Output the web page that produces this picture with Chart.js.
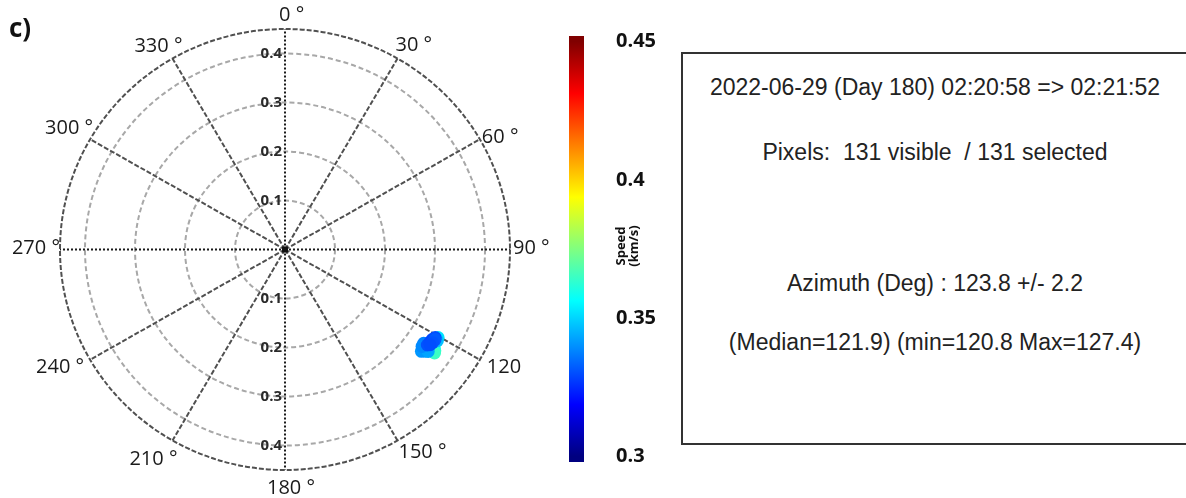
<!DOCTYPE html>
<html lang="en">
<head>
    <meta charset="UTF-8">
    <title>Azimuth / Speed</title>
    <style>
        body, html {
            margin: 0;
            padding: 0;
            width: 1186px;
            height: 498px;
            overflow: hidden;
            background: #fff;
        }
        .wrap { position: relative; width: 1186px; height: 498px; }
        canvas { position: absolute; top: 0; }
        #panel {
            position: absolute;
            left: 9px;
            top: 12px;
            font: bold 26px "Open Sans", sans-serif;
            line-height: 30px;
            color: #111;
        }
        #cbtitle {
            position: absolute;
            left: 597px;
            top: 233px;
            width: 60px;
            text-align: center;
            font: bold 13px "Open Sans", sans-serif;
            line-height: 13px;
            color: #111;
            transform: rotate(-90deg);
        }
        #info {
            position: absolute;
            left: 681px;
            top: 52px;
            width: 520px;
            height: 389px;
            border: 2px solid #333;
            font: 23px "Liberation Sans", Arial, sans-serif;
            color: #222;
        }
        #info div {
            position: absolute;
            left: 0;
            width: 504px;
            text-align: center;
            line-height: 26px;
            white-space: pre;
        }
    </style>
    <script src="https://cdn.jsdelivr.net/npm/chart.js"></script>
</head>
<body>
<div class="wrap">
    <canvas id="polar" width="560" height="498" style="left:0"></canvas>
    <canvas id="cbar" width="120" height="498" style="left:560px"></canvas>
    <div id="panel">c)</div>
    <div id="cbtitle">Speed<br>(km/s)</div>
    <div id="info"></div>
</div>
<script>
    // radial rings and angle labels
    const ringValues = [0.1, 0.2, 0.3, 0.4];
    const rMax = 0.45;
    const angleTicks = [0, 30, 60, 90, 120, 150, 180, 210, 240, 270, 300, 330];
    const angleLabels = ['0 °', '30 °', '60 °', '90 °', '120', '150 °', '180 °', '210 °', '240 °', '270 °', '300 °', '330 °'];

    // colour bar
    const colorMin = 0.3;
    const colorMax = 0.45;
    const colorTicks = [0.3, 0.35, 0.4, 0.45];

    // selected pixels (azimuth deg, radial speed, colour speed km/s)
    const azimuth = [124.6, 124.0, 125.2, 120.4, 121.4, 125.3, 126.5, 124.6, 127.3, 126.0, 125.8, 124.4, 123.2, 122.0, 120.9, 121.5, 122.8, 123.8];
    const radius  = [0.364, 0.360, 0.366, 0.355, 0.357, 0.342, 0.349, 0.337, 0.343, 0.354, 0.338, 0.345, 0.346, 0.347, 0.350, 0.352, 0.351, 0.349];
    const speed   = [0.363, 0.360, 0.365, 0.352, 0.347, 0.340, 0.342, 0.338, 0.341, 0.343, 0.339, 0.331, 0.330, 0.329, 0.330, 0.332, 0.331, 0.330];

    const infoLines = [
        '2022-06-29 (Day 180) 02:20:58 => 02:21:52',
        'Pixels:  131 visible  / 131 selected',
        'Azimuth (Deg) : 123.8 +/- 2.2',
        '(Median=121.9) (min=120.8 Max=127.4)'
    ];
    const infoTops = [20, 85, 216, 275];

    const info = document.getElementById('info');
    infoLines.forEach((t, i) => {
        const d = document.createElement('div');
        d.textContent = t;
        d.style.top = infoTops[i] + 'px';
        info.appendChild(d);
    });

    function jet(v) {
        const t = Math.min(1, Math.max(0, (v - colorMin) / (colorMax - colorMin)));
        const c = x => Math.round(255 * Math.min(1, Math.max(0, 1.5 - Math.abs(x))));
        return `rgb(${c(4 * t - 3)}, ${c(4 * t - 2)}, ${c(4 * t - 1)})`;
    }

    const rad = d => d * Math.PI / 180;
    const points = azimuth.map((a, i) => ({
        x: radius[i] * Math.sin(rad(a)),
        y: radius[i] * Math.cos(rad(a))
    }));

    // label placement around the outer ring: [align, dx, dy]
    const labelPlace = [
        ['left', -6, -14], ['left', -2, -13], ['left', 2, -2], ['left', 3, -1],
        ['left', 7, 8], ['left', 1, 12], ['left', -18, 18], ['right', 5, 19],
        ['right', -6, 8], ['right', 0, -1], ['right', 3, -11], ['right', 10, -12]
    ];

    const polarGrid = {
        id: 'polarGrid',
        beforeDatasetsDraw(chart) {
            const { ctx, scales: { x, y } } = chart;
            const cx = x.getPixelForValue(0);
            const cy = y.getPixelForValue(0);
            const px = (r, a) => [x.getPixelForValue(r * Math.sin(rad(a))), y.getPixelForValue(r * Math.cos(rad(a)))];
            ctx.save();

            // inner rings
            ringValues.forEach(r => {
                ctx.beginPath();
                ctx.setLineDash([5, 3]);
                ctx.strokeStyle = '#a8a8a8';
                ctx.lineWidth = 2;
                ctx.ellipse(cx, cy, x.getPixelForValue(r) - cx, cy - y.getPixelForValue(r), 0, 0, 2 * Math.PI);
                ctx.stroke();
            });

            // spokes
            angleTicks.forEach(a => {
                const [ex, ey] = px(rMax, a);
                const axial = a % 90 === 0;
                ctx.beginPath();
                ctx.setLineDash(axial ? [2, 2] : [5, 2]);
                ctx.strokeStyle = axial ? '#1a1a1a' : '#505050';
                ctx.lineWidth = 2;
                ctx.moveTo(cx, cy);
                ctx.lineTo(ex, ey);
                ctx.stroke();
            });

            // outer ring
            ctx.beginPath();
            ctx.setLineDash([5, 2]);
            ctx.strokeStyle = '#505050';
            ctx.lineWidth = 2;
            ctx.ellipse(cx, cy, x.getPixelForValue(rMax) - cx, cy - y.getPixelForValue(rMax), 0, 0, 2 * Math.PI);
            ctx.stroke();
            ctx.setLineDash([]);

            ctx.fillStyle = '#111';
            ctx.fillRect(cx - 3, cy - 3, 6, 6);

            // ring labels along the vertical axis
            ctx.font = 'bold 15px "Open Sans", sans-serif';
            ctx.fillStyle = '#2a2a2a';
            ctx.textAlign = 'right';
            ctx.textBaseline = 'middle';
            ringValues.forEach(r => {
                ctx.fillText(String(r), cx - 3, y.getPixelForValue(r));
                ctx.fillText(String(r), cx - 3, y.getPixelForValue(-r));
            });

            // angle labels
            ctx.font = '20px "Open Sans", sans-serif';
            ctx.fillStyle = '#1a1a1a';
            angleTicks.forEach((a, i) => {
                const [ex, ey] = px(rMax, a);
                const [al, dx, dy] = labelPlace[i];
                ctx.textAlign = al;
                ctx.fillText(angleLabels[i], ex + dx, ey + dy);
            });
            ctx.restore();
        }
    };

    new Chart(document.getElementById('polar'), {
        type: 'scatter',
        data: {
            datasets: [{
                data: points,
                backgroundColor: speed.map(jet),
                borderWidth: 0,
                pointRadius: 6.5,
                pointHoverRadius: 6.5
            }]
        },
        options: {
            responsive: false,
            animation: false,
            layout: { padding: { left: 60, right: 50, top: 29, bottom: 28 } },
            scales: {
                x: { type: 'linear', min: -rMax, max: rMax, display: false },
                y: { type: 'linear', min: -rMax, max: rMax, display: false }
            },
            plugins: { legend: { display: false }, tooltip: { enabled: false } }
        },
        plugins: [polarGrid]
    });

    // colour bar as a single floating bar filled with the jet map
    new Chart(document.getElementById('cbar'), {
        type: 'bar',
        data: {
            labels: [''],
            datasets: [{
                data: [[0.298, 0.452]],
                borderWidth: 0,
                borderSkipped: false,
                barPercentage: 1,
                categoryPercentage: 1,
                backgroundColor(context) {
                    const { chart } = context;
                    const ys = chart.scales.y;
                    if (!chart.chartArea || !ys) return 'blue';
                    const g = chart.ctx.createLinearGradient(0, ys.getPixelForValue(colorMin), 0, ys.getPixelForValue(colorMax));
                    for (let i = 0; i <= 16; i++) {
                        g.addColorStop(i / 16, jet(colorMin + (colorMax - colorMin) * i / 16));
                    }
                    return g;
                }
            }]
        },
        options: {
            responsive: false,
            animation: false,
            layout: { padding: { left: 9, right: 0, top: 33, bottom: 31 } },
            scales: {
                x: { display: false },
                y: {
                    position: 'right',
                    min: 0.298,
                    max: 0.452,
                    grid: { display: false },
                    border: { display: false },
                    afterBuildTicks(scale) { scale.ticks = colorTicks.map(v => ({ value: v })); },
                    afterFit(scale) { scale.width = 96; },
                    ticks: {
                        padding: 24,
                        color: '#111',
                        font: { family: '"Open Sans", sans-serif', size: 20, weight: 'bold' },
                        callback: v => String(v)
                    }
                }
            },
            plugins: { legend: { display: false }, tooltip: { enabled: false } }
        }
    });
</script>
</body>
</html>
